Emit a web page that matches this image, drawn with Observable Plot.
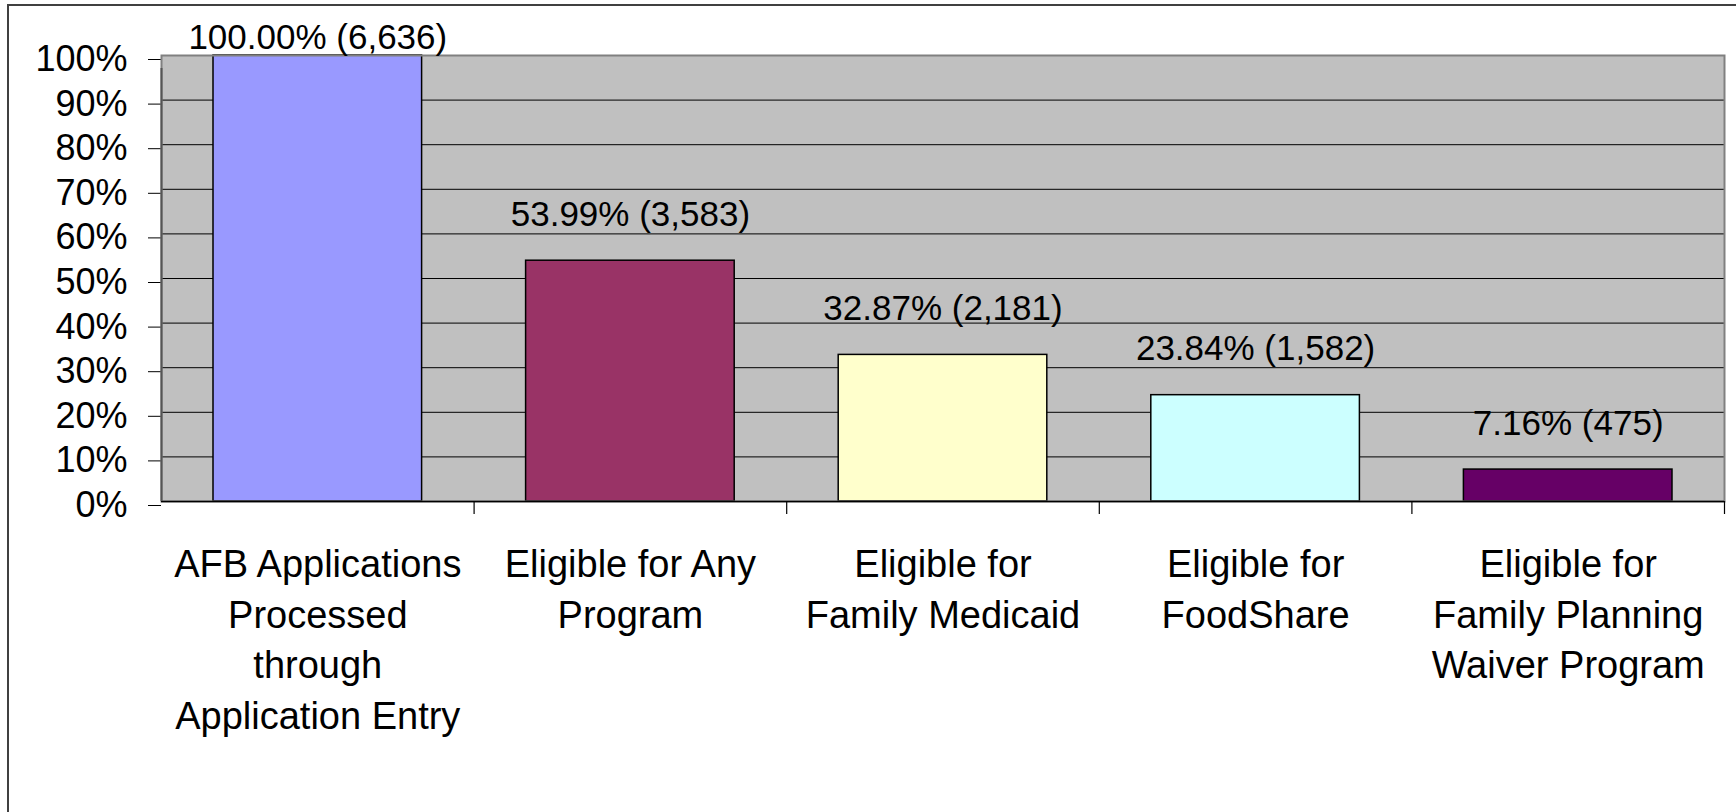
<!DOCTYPE html>
<html>
<head>
<meta charset="utf-8">
<script src="https://cdn.jsdelivr.net/npm/d3@7"></script>
<script src="https://cdn.jsdelivr.net/npm/@observablehq/plot@0.6"></script>
<style>
  html, body { margin: 0; padding: 0; background: #fff; overflow: hidden; }
  #wrap { position: relative; width: 1736px; height: 812px; }
  #border { position: absolute; left: 7px; top: 4px; width: 1800px; height: 900px;
            border-top: 2px solid #404040; border-left: 2px solid #404040; pointer-events: none; }
  svg { font-family: "Liberation Sans", Arial, sans-serif; }
</style>
</head>
<body>
<div id="wrap"><div id="border"></div></div>
<script>
// ---- data ----
const categories = [
  "AFB Applications\nProcessed\nthrough\nApplication Entry",
  "Eligible for Any\nProgram",
  "Eligible for\nFamily Medicaid",
  "Eligible for\nFoodShare",
  "Eligible for\nFamily Planning\nWaiver Program"
];
const percents = [100.00, 53.99, 32.87, 23.84, 7.16];
const counts = [6636, 3583, 2181, 1582, 475];
const yTicks = [0, 10, 20, 30, 40, 50, 60, 70, 80, 90, 100];
const palette = ["#9999FF", "#993366", "#FFFFCC", "#CCFFFF", "#660066"];

const data = categories.map((c, i) => ({
  cat: c,
  pct: percents[i],
  label: percents[i].toFixed(2) + "% (" + counts[i].toLocaleString("en-US") + ")"
}));

// ---- layout ----
const W = 1736, H = 812;
const mL = 161, mR = 12, mT = 55, mB = 311;
const bw = (W - mL - mR) / categories.length;

const chart = Plot.plot({
  width: W,
  height: H,
  marginLeft: mL,
  marginRight: mR,
  marginTop: mT,
  marginBottom: mB,
  style: {fontFamily: '"Liberation Sans", Arial, sans-serif', background: "transparent", overflow: "visible"},
  x: {domain: categories, padding: 0, round: false, axis: null},
  y: {domain: [0, 100], axis: null},
  color: {domain: categories, range: palette},
  marks: [
    Plot.frame({fill: "#C0C0C0", stroke: null}),
    Plot.gridY(yTicks, {stroke: "#000", strokeOpacity: 1, strokeWidth: 1}),
    Plot.axisY(yTicks, {
      tickSize: 13, tickPadding: 21, fontSize: 36, dy: 4,
      tickFormat: d => d + "%", stroke: "#000", fill: "#000", label: null
    }),
    Plot.barY(data, {
      x: "cat", y: "pct", fill: "cat",
      stroke: "#000", strokeWidth: 1.5, insetLeft: 52, insetRight: 52
    }),
    Plot.frame({stroke: "#808080", strokeWidth: 2}),
    Plot.ruleY([0], {stroke: "#000", strokeWidth: 1.5}),
    Plot.ruleX([0], {x: () => categories[0], dx: -bw / 2, y1: 0, y2: 100, insetBottom: -13, stroke: "#555", strokeWidth: 2}),
    Plot.ruleX(categories.slice(1), {x: d => d, dx: -bw / 2, y1: 0, y2: 0, insetBottom: -13, stroke: "#000", strokeWidth: 1.2}),
    Plot.ruleX([categories[categories.length - 1]], {x: d => d, dx: bw / 2, y1: 0, y2: 0, insetBottom: -13, stroke: "#000", strokeWidth: 1.2}),
    Plot.text(data, {
      x: "cat", y: d => Math.min(d.pct + 10.3, 104.0),
      text: "label", fontSize: 35, fill: "#000"
    }),
    Plot.text(data, {
      x: "cat", y: () => 0, text: "cat",
      lineAnchor: "top", dy: 40, fontSize: 38, lineHeight: 1.33, fill: "#000"
    })
  ]
});
document.getElementById("wrap").prepend(chart);
chart.style.position = "absolute";
chart.style.left = "0";
chart.style.top = "0";
</script>
</body>
</html>
